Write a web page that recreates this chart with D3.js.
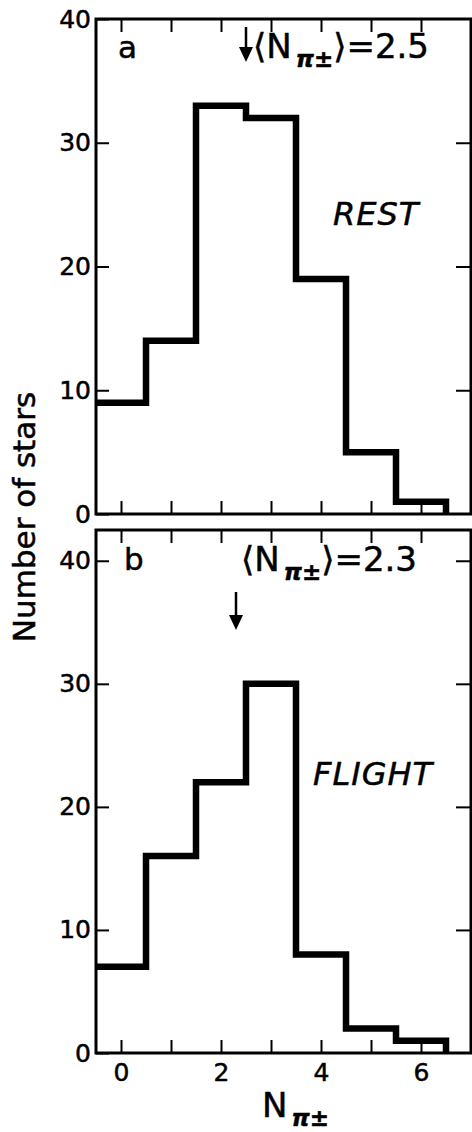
<!DOCTYPE html>
<html>
<head>
<meta charset="utf-8">
<script src="https://cdn.jsdelivr.net/npm/d3@7"></script>
<style>
  body { margin: 0; background: #fff; }
  svg text { font-family: "DejaVu Sans", "Liberation Sans", sans-serif; fill: #000;
             stroke: #000; stroke-width: 0.5; }
</style>
</head>
<body>
<svg id="chart" width="472" height="1132"></svg>
<script>
// Charged-pion multiplicity per star, at rest and in flight
const multiplicities = [0, 1, 2, 3, 4, 5, 6];
const restCounts = [9, 14, 33, 32, 19, 5, 1];
const flightCounts = [7, 16, 22, 30, 8, 2, 1];
const restMean = 2.5;
const flightMean = 2.3;
const xTickValues = [0, 1, 2, 3, 4, 5, 6];
const xTickLabels = [0, 2, 4, 6];
const yTickValues = [0, 10, 20, 30, 40];

const svg = d3.select("#chart");

const x = d3.scaleLinear().domain([-0.5, 7]).range([96, 471]);

const panels = [
  { counts: restCounts, mean: restMean, letter: "a", tag: "REST",
    top: 19, bottom: 514, yMax: 40, meanY: [27, 62], textY: 58, textDX: 7,
    letterPos: [118, 58], tagPos: [333, 225], showXLabels: false },
  { counts: flightCounts, mean: flightMean, letter: "b", tag: "FLIGHT",
    top: 530, bottom: 1053, yMax: 42.5, meanY: [592, 630], textY: 571, textDX: 5,
    letterPos: [124, 570], tagPos: [313, 785], showXLabels: true }
];

panels.forEach(p => {
  const y = d3.scaleLinear().domain([0, p.yMax]).range([p.bottom, p.top]);
  const g = svg.append("g");

  // frame
  g.append("rect")
    .attr("x", x.range()[0]).attr("y", p.top)
    .attr("width", x.range()[1] - x.range()[0])
    .attr("height", p.bottom - p.top)
    .attr("fill", "none").attr("stroke", "#000").attr("stroke-width", 3);

  // inward ticks on all four sides
  const tickStyle = sel => {
    sel.select(".domain").remove();
    sel.selectAll(".tick line").attr("stroke", "#000").attr("stroke-width", 2);
  };

  const bottomAxis = g.append("g")
    .attr("transform", `translate(0,${p.bottom})`)
    .call(d3.axisBottom(x).tickValues(xTickValues).tickSize(-13).tickPadding(10)
      .tickFormat(d => (p.showXLabels && xTickLabels.includes(d)) ? d : ""));
  tickStyle(bottomAxis);
  bottomAxis.selectAll("text").attr("font-size", 25);

  const topAxis = g.append("g")
    .attr("transform", `translate(0,${p.top})`)
    .call(d3.axisTop(x).tickValues(xTickValues).tickSize(-13).tickFormat(""));
  tickStyle(topAxis);

  const leftAxis = g.append("g")
    .attr("transform", `translate(${x.range()[0]},0)`)
    .call(d3.axisLeft(y).tickValues(yTickValues).tickSize(-13).tickPadding(5));
  tickStyle(leftAxis);
  leftAxis.selectAll("text").attr("font-size", 25);

  const rightAxis = g.append("g")
    .attr("transform", `translate(${x.range()[1]},0)`)
    .call(d3.axisRight(y).tickValues(yTickValues.filter(v => v > 0 && v < p.yMax)).tickSize(-15).tickFormat(""));
  tickStyle(rightAxis);

  // histogram outline
  const steps = multiplicities.map((m, i) => [m - 0.5, p.counts[i]]);
  steps.push([multiplicities[multiplicities.length - 1] + 0.5, 0]);
  const line = d3.line()
    .x(d => x(d[0]))
    .y(d => y(d[1]))
    .curve(d3.curveStepAfter);
  g.append("path")
    .attr("d", line(steps))
    .attr("fill", "none")
    .attr("stroke", "#000")
    .attr("stroke-width", 6.5)
    .attr("stroke-linejoin", "miter");

  // panel letter
  g.append("text")
    .attr("x", p.letterPos[0]).attr("y", p.letterPos[1])
    .attr("font-size", 31)
    .text(p.letter);

  // mean arrow
  const ax = x(p.mean);
  g.append("line")
    .attr("x1", ax).attr("x2", ax)
    .attr("y1", p.meanY[0]).attr("y2", p.meanY[1] - 10)
    .attr("stroke", "#000").attr("stroke-width", 2.5);
  g.append("path")
    .attr("d", `M${ax - 7},${p.meanY[1] - 15}L${ax + 7},${p.meanY[1] - 15}L${ax},${p.meanY[1]}Z`)
    .attr("fill", "#000");

  // mean label
  const t = g.append("text")
    .attr("x", ax + p.textDX)
    .attr("y", p.textY)
    .attr("font-size", 34);
  t.append("tspan").text("\u27E8N");
  t.append("tspan").attr("font-size", 23).attr("font-weight", "bold").attr("font-style", "italic")
    .attr("dx", 4).attr("dy", 9).text("\u03C0\u00B1");
  t.append("tspan").attr("dy", -9).text("\u27E9=" + p.mean.toFixed(1));

  // condition tag
  g.append("text")
    .attr("x", p.tagPos[0]).attr("y", p.tagPos[1])
    .attr("font-size", 32).attr("font-style", "italic")
    .attr("letter-spacing", 1)
    .text(p.tag);
});

// shared axis titles
svg.append("text")
  .attr("transform", "translate(24,517) rotate(-90)")
  .attr("text-anchor", "middle")
  .attr("dominant-baseline", "central")
  .attr("font-size", 31)
  .attr("stroke-width", 1)
  .text("Number of stars");

const xt = svg.append("text")
  .attr("x", 262).attr("y", 1117)
  .attr("font-size", 34);
xt.append("tspan").text("N");
xt.append("tspan").attr("font-size", 23).attr("font-weight", "bold").attr("font-style", "italic")
  .attr("dx", 4).attr("dy", 9).text("\u03C0\u00B1");
</script>
</body>
</html>
